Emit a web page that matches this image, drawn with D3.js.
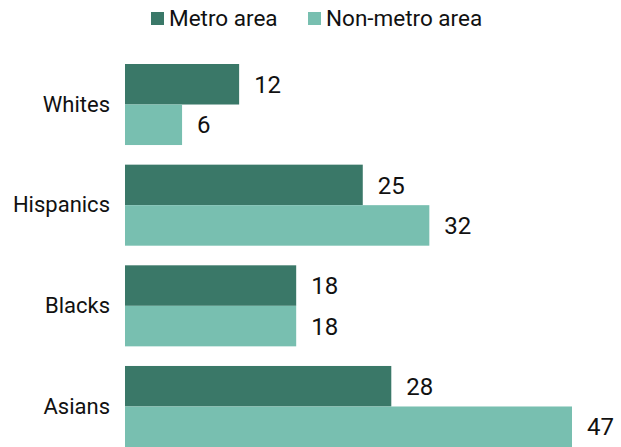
<!DOCTYPE html>
<html>
<head>
<meta charset="utf-8">
<script src="https://cdn.jsdelivr.net/npm/d3@7"></script>
<style>
  html, body { margin: 0; padding: 0; background: #fff; }
  svg { display: block; }
  text { font-family: Roboto, "Liberation Sans", sans-serif; fill: #111; }
</style>
</head>
<body>
<svg id="chart" width="621" height="447"></svg>
<script>
// Share of each group, by area type
const categories = ["Whites", "Hispanics", "Blacks", "Asians"];
const metroValues = [12, 25, 18, 28];
const nonMetroValues = [6, 32, 18, 47];
const seriesNames = ["Metro area", "Non-metro area"];
const seriesColors = ["#3a7868", "#78bfb0"];

const rows = categories.map((c, i) => ({
  category: c,
  values: [metroValues[i], nonMetroValues[i]]
}));

const width = 621, height = 447;
const svg = d3.select("#chart");

const x = d3.scaleLinear().domain([0, 47]).range([125, 572]);

const y = d3.scaleBand()
  .domain(categories)
  .range([64, 447])
  .paddingInner(0.195)
  .paddingOuter(0);

const ySub = d3.scaleBand()
  .domain(seriesNames)
  .range([0, y.bandwidth()]);

const groups = svg.append("g")
  .selectAll("g")
  .data(rows)
  .join("g")
  .attr("transform", d => `translate(0,${y(d.category)})`);

groups.selectAll("rect")
  .data(d => d.values.map((v, i) => ({ v, s: seriesNames[i], c: seriesColors[i] })))
  .join("rect")
  .attr("x", x(0))
  .attr("y", d => ySub(d.s))
  .attr("width", d => x(d.v) - x(0))
  .attr("height", ySub.bandwidth())
  .attr("fill", d => d.c);

groups.selectAll("text.value")
  .data(d => d.values.map((v, i) => ({ v, s: seriesNames[i] })))
  .join("text")
  .attr("class", "value")
  .attr("x", d => x(d.v) + 15)
  .attr("y", d => ySub(d.s) + ySub.bandwidth() / 2)
  .attr("dy", "0.36em")
  .attr("font-size", 24)
  .text(d => d.v);

// Category axis on the left, without domain line or ticks
const yAxis = svg.append("g")
  .attr("transform", `translate(${x(0)},0)`)
  .call(d3.axisLeft(y).tickSize(0).tickPadding(15));
yAxis.select(".domain").remove();
yAxis.selectAll("text")
  .attr("font-size", 22)
  .attr("font-family", "Roboto, 'Liberation Sans', sans-serif")
  .attr("fill", "#111");

// Legend
const legendItems = [
  { name: seriesNames[0], color: seriesColors[0], x: 151 },
  { name: seriesNames[1], color: seriesColors[1], x: 308 }
];
const legend = svg.append("g")
  .selectAll("g")
  .data(legendItems)
  .join("g")
  .attr("transform", d => `translate(${d.x},12)`);
legend.append("rect")
  .attr("width", 13).attr("height", 13)
  .attr("fill", d => d.color);
legend.append("text")
  .attr("x", 18)
  .attr("y", 14)
  .attr("font-size", 22.5)
  .text(d => d.name);
</script>
</body>
</html>
